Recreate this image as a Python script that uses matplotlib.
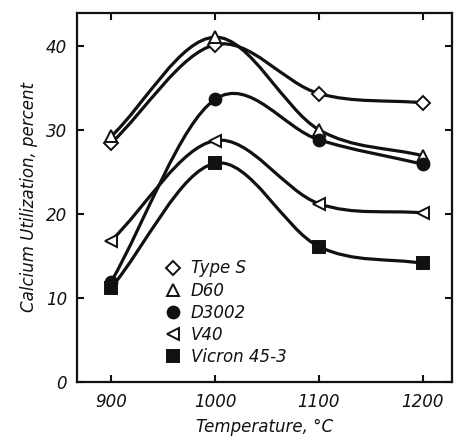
import numpy as np
import matplotlib
matplotlib.use("Agg")
import matplotlib.pyplot as plt
from matplotlib.path import Path
from matplotlib.patches import PathPatch
from matplotlib.lines import Line2D

temps = [900, 1000, 1100, 1200]
type_s = [28.4, 40.1, 34.3, 33.2]
d60 = [29.2, 41.0, 30.0, 26.9]
d3002 = [11.9, 33.6, 28.8, 25.9]
v40 = [16.8, 28.7, 21.2, 20.1]
vicron = [11.2, 26.0, 16.1, 14.1]

names = ['Type S', 'D60', 'D3002', 'V40', 'Vicron 45-3']
markers = ['D', '^', 'o', '<', 's']
filled = [False, False, True, False, True]
series = [type_s, d60, d3002, v40, vicron]

ink = '#111111'
plt.rcParams['font.family'] = ['DejaVu Sans']


def smooth_path(x, y):
    # catmull-rom -> bezier, drawn by matplotlib in data coords
    x = np.asarray(x, float)
    y = np.asarray(y, float)
    n = len(x)
    tx = np.zeros(n)
    ty = np.zeros(n)
    for i in range(n):
        a = max(i - 1, 0)
        b = min(i + 1, n - 1)
        tx[i] = (x[b] - x[a]) / (b - a)
        ty[i] = (y[b] - y[a]) / (b - a)
    verts = [(x[0], y[0])]
    codes = [Path.MOVETO]
    for i in range(n - 1):
        verts += [(x[i] + tx[i] / 3, y[i] + ty[i] / 3),
                  (x[i + 1] - tx[i + 1] / 3, y[i + 1] - ty[i + 1] / 3),
                  (x[i + 1], y[i + 1])]
        codes += [Path.CURVE4] * 3
    return Path(verts, codes)


fig = plt.figure(figsize=(4.55, 4.42), dpi=100)
ax = fig.add_axes([0.169, 0.136, 0.824, 0.835])

for vals, m, f in zip(series, markers, filled):
    ax.add_patch(PathPatch(smooth_path(temps, vals), fill=False, edgecolor=ink,
                           lw=2.3, capstyle='round', zorder=2))
    ax.plot(temps, vals, ls='none', marker=m, ms=8.5 if m != 'D' else 7.5,
            mfc=ink if f else 'white', mec=ink, mew=1.4, zorder=3)

ax.set_xlim(867, 1228)
ax.set_ylim(0, 43.9)
ax.set_xticks(temps)
ax.set_yticks([0, 10, 20, 30, 40])
ax.tick_params(direction='in', length=5, width=1.5, top=True, right=True,
               labelsize=12, colors=ink)
ax.tick_params(axis='x', pad=8)
ax.tick_params(axis='y', pad=7)
for lab in ax.get_xticklabels() + ax.get_yticklabels():
    lab.set_style('italic')
for s in ax.spines.values():
    s.set_linewidth(1.6)
    s.set_color(ink)

ax.set_xlabel('Temperature, °C', fontsize=12, style='italic', color=ink, labelpad=5)
ax.set_ylabel('Calcium Utilization, percent', fontsize=12, style='italic', color=ink, labelpad=6)

handles = [Line2D([], [], ls='none', marker=m, ms=8.5 if m != 'D' else 7.5,
                  mfc=ink if f else 'white', mec=ink, mew=1.4)
           for m, f in zip(markers, filled)]
leg = ax.legend(handles, names, loc='upper left', bbox_to_anchor=(0.215, 0.35),
                frameon=False, fontsize=12, handlelength=1.0, handletextpad=0.6,
                labelspacing=0.25, borderaxespad=0)
for t in leg.get_texts():
    t.set_style('italic')
    t.set_color(ink)

fig.savefig('out.png', dpi=100)
